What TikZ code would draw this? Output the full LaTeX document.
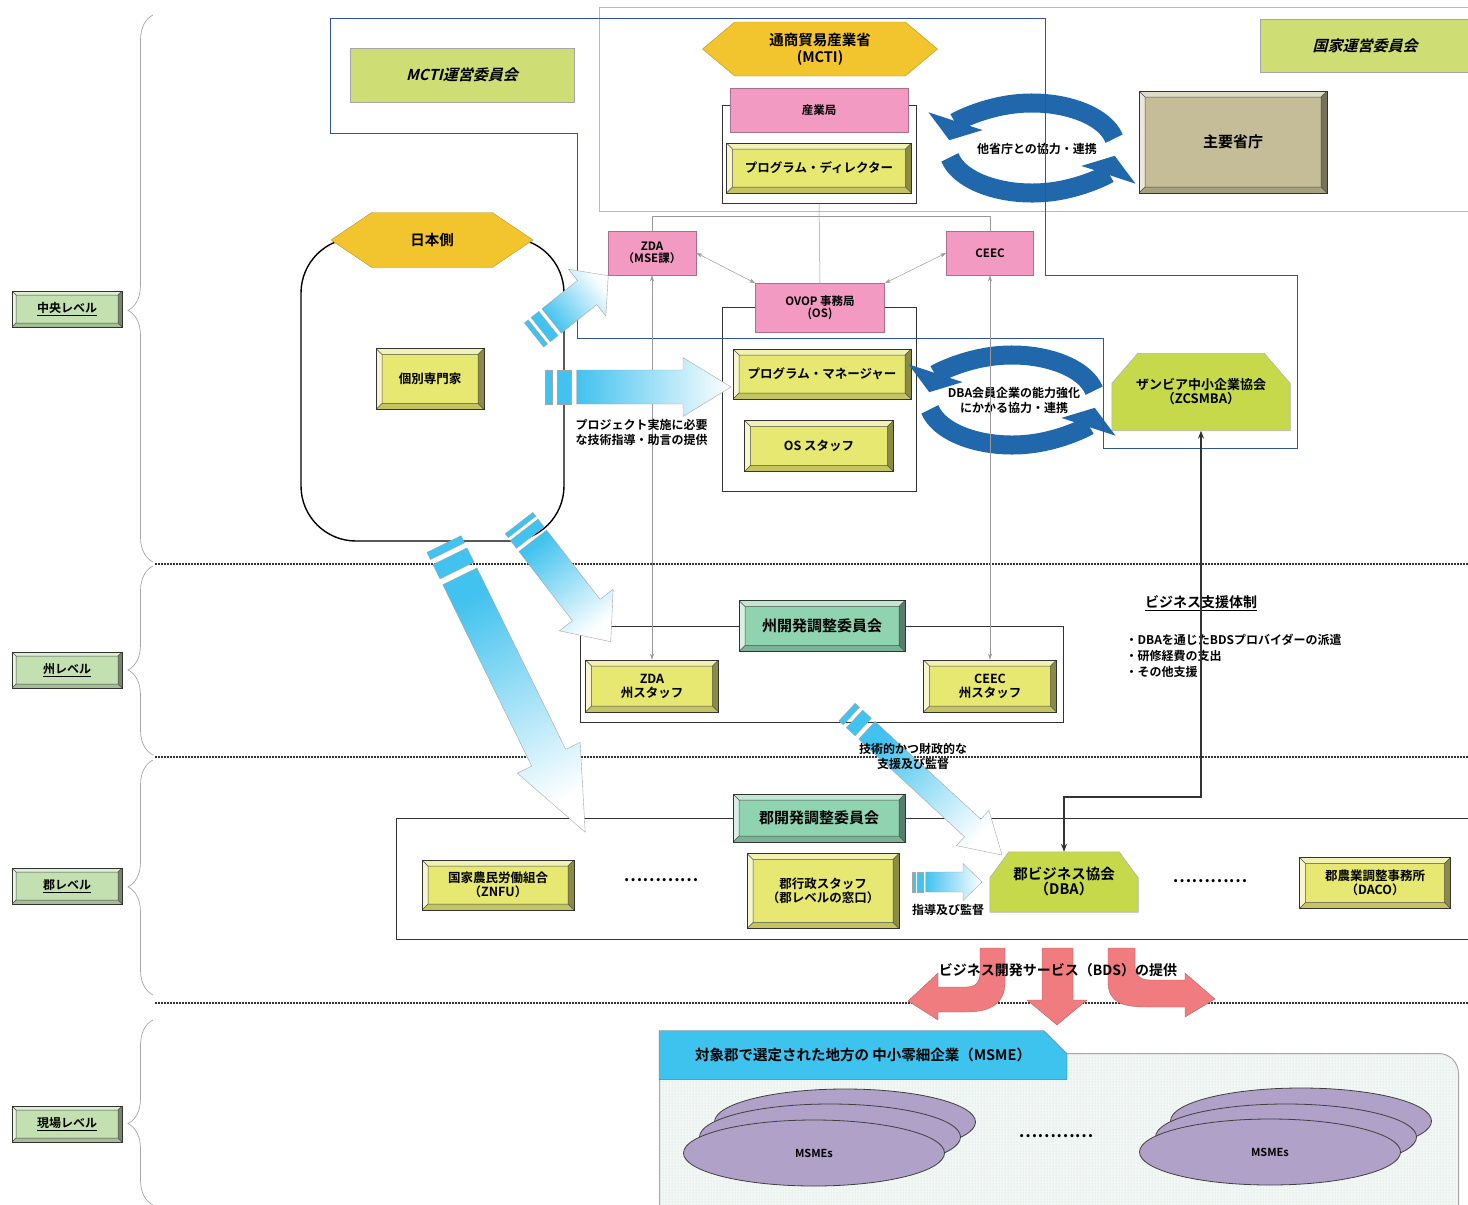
\documentclass[tikz,border=0pt]{standalone}
\usepackage{fontspec}
\setmainfont{Noto Sans CJK JP Bold}
\newfontfamily\slantjp{Noto Sans CJK JP Bold}[FakeSlant=0.25]
\usetikzlibrary{shapes}
\usetikzlibrary{arrows.meta}
\usetikzlibrary{positioning}
\usetikzlibrary{calc}
\usetikzlibrary{decorations.pathreplacing}
\usetikzlibrary{patterns}

\pgfdeclarelayer{background}
\pgfsetlayers{background,main}

\definecolor{boxYellow}{HTML}{E6E872}
\definecolor{pinkFill}{HTML}{F29AC2}
\definecolor{pinkEdge}{HTML}{A8708C}
\definecolor{comLime}{HTML}{CEDE74}
\definecolor{assocGreen}{HTML}{C5D94B}
\definecolor{committeeMint}{HTML}{8FD3B1}
\definecolor{lvlGreen}{HTML}{C3E0B0}
\definecolor{ministryTan}{HTML}{C4BD97}
\definecolor{hexGold}{HTML}{F2C52E}
\definecolor{cyanA}{HTML}{42C2EE}
\definecolor{bdsSalmon}{HTML}{F07C80}
\definecolor{msmePurple}{HTML}{AFA1C7}
\definecolor{hdrCyan}{HTML}{3EC3EE}
\definecolor{mctiNavy}{HTML}{2F5597}
\definecolor{cycleBlue}{HTML}{2067AC}
\definecolor{siteFill}{HTML}{F2F7F4}

\newcommand{\bvw}{6pt}

\newcommand{\gradarrow}[7]{%
	\pgfmathsetmacro{\shadeang}{#2-90}
	\begin{scope}[shift={#1}, rotate=#2]
		\filldraw[stripe] (0,-#4/2) rectangle (#7,#4/2);
		\filldraw[stripe] (1.7*#7,-#4/2) rectangle (3.7*#7,#4/2);
		\shade[draw=gray!70, line width=0.4pt, bottom color=cyanA, top color=white, shading angle=\shadeang]
			(4.5*#7,-#4/2) -- (#3-#6,-#4/2) -- (#3-#6,-#5/2) -- (#3,0) -- (#3-#6,#5/2) -- (#3-#6,#4/2) -- (4.5*#7,#4/2) -- cycle;
	\end{scope}}

\newcommand{\cyclearrows}[1]{%
	\begin{scope}[shift={#1}, y=1pt]
		\draw[cyclearc] (12:84 and 45) arc[start angle=12, end angle=170, x radius=84, y radius=45];
		\draw[cyclearc] (192:84 and 45) arc[start angle=192, end angle=350, x radius=84, y radius=45];
	\end{scope}}

\newcommand{\chamferbox}[3]{%
	\begin{pgfonlayer}{background}
		\filldraw[assocshape] (#1.south west) -- (#1.south east) -- ([yshift=-#3pt]#1.north east)
			-- ([xshift=-#2pt]#1.north east) -- ([xshift=#2pt]#1.north west) -- ([yshift=-#3pt]#1.north west) -- cycle;
	\end{pgfonlayer}}

\tikzset{
	every node/.append style={align=center, font=\fontsize{12.5}{14}\selectfont},
	bevel/.style={draw=black!80, line width=0.6pt, fill=#1, inner sep=3pt,
		path picture={
			\path (path picture bounding box.north west) coordinate (bnw)
				(path picture bounding box.north east) coordinate (bne)
				(path picture bounding box.south west) coordinate (bsw)
				(path picture bounding box.south east) coordinate (bse);
			\path ([shift={(\bvw,-\bvw)}]bnw) coordinate (inw)
				([shift={(-\bvw,-\bvw)}]bne) coordinate (ine)
				([shift={(\bvw,\bvw)}]bsw) coordinate (isw)
				([shift={(-\bvw,\bvw)}]bse) coordinate (ise);
			\fill[#1!55!white] (bnw) -- (bne) -- (ine) -- (inw) -- cycle;
			\fill[#1!35!white] (bnw) -- (inw) -- (isw) -- (bsw) -- cycle;
			\fill[#1!60!black] (bne) -- (bse) -- (ise) -- (ine) -- cycle;
			\fill[#1!85!black] (bsw) -- (bse) -- (ise) -- (isw) -- cycle;
			\draw[black!70, line width=0.5pt] (inw) rectangle (ise)
				(bnw) -- (inw) (bne) -- (ine) (bsw) -- (isw) (bse) -- (ise);
		}},
	thinbevel/.code={\renewcommand{\bvw}{4pt}},
	ybox/.style={bevel=boxYellow},
	lvlbox/.style={thinbevel, bevel=lvlGreen, minimum width=110pt, minimum height=36pt, font=\fontsize{12}{13}\selectfont},
	pinkbox/.style={draw=pinkEdge, fill=pinkFill, line width=0.8pt, font=\fontsize{11.5}{12.5}\selectfont},
	combox/.style={draw=gray!70, fill=comLime, font=\slantjp\fontsize{15}{17}\selectfont},
	grpbox/.style={draw=black!80, line width=0.8pt, fill=white},
	hexnode/.style={signal, signal to=east and west, fill=hexGold, draw=hexGold!75!black, line width=0.4pt, font=\fontsize{14.5}{17}\selectfont},
	assoc/.style={font=\fontsize{13}{14}\selectfont},
	assocshape/.style={fill=assocGreen, draw=gray!60, line width=0.6pt},
	levelsep/.style={line width=1.4pt, dash pattern=on 1.5pt off 1.5pt, black!80},
	levelbrace/.style={decorate, decoration={brace, amplitude=25pt}, draw=gray!70, line width=0.7pt},
	linkline/.style={draw=gray!80, line width=0.5pt},
	linkarrow/.style={draw=gray!80, line width=0.5pt, {Stealth[length=6pt,width=4pt]}-{Stealth[length=6pt,width=4pt]}},
	supportlink/.style={draw=black!80, line width=1.1pt, {Stealth[length=8pt,width=6pt]}-{Stealth[length=8pt,width=6pt]}},
	mctiline/.style={draw=mctiNavy, line width=0.9pt},
	cyclearc/.style={draw=cycleBlue, line width=19pt, -{Triangle[width=56pt, length=20pt]}},
	stripe/.style={fill=cyanA, draw=gray!70, line width=0.3pt},
	bdsarrow/.style={fill=bdsSalmon, draw=bdsSalmon!70!black, line width=0.3pt},
	txtsmall/.style={font=\fontsize{12}{15}\selectfont},
	dotsep/.style={font=\fontsize{17}{17}\selectfont},
	msme/.style={ellipse, draw=black!75, line width=0.8pt, fill=msmePurple, minimum width=261pt, minimum height=66pt, font=\fontsize{11}{12}\selectfont},
	hdrtab/.style={chamfered rectangle, chamfered rectangle corners=north east, chamfered rectangle xsep=9pt, chamfered rectangle ysep=14pt, fill=hdrCyan, draw=black!60, font=\fontsize{14.5}{16}\selectfont},
	sitebox/.style={draw=gray!70, line width=1pt, rounded corners=20pt, fill=siteFill, postaction={pattern=dots, pattern color=teal!25}}
}

\begin{document}
\begin{tikzpicture}[x=1pt, y=-1pt]
	\useasboundingbox (0,0) rectangle (1468,1205);

	% levels
	\draw[levelsep] (155,564) -- (1468,564);
	\draw[levelsep] (155,757) -- (1468,757);
	\draw[levelsep] (155,1003) -- (1468,1003);
	\node[lvlbox] (central) at (67,309) {\underline{中央レベル}};
	\node[lvlbox] (province) at (67,670) {\underline{州レベル}};
	\node[lvlbox] (district) at (67,886) {\underline{郡レベル}};
	\node[lvlbox] (field) at (67,1124) {\underline{現場レベル}};
	\draw[levelbrace, decoration={aspect=0.46}] (153,562) -- (153,15);
	\draw[levelbrace, decoration={aspect=0.45}] (153,755) -- (153,566);
	\draw[levelbrace, decoration={aspect=0.46}] (153,995) -- (153,760);
	\draw[levelbrace, decoration={aspect=0.44}] (153,1205) -- (153,1020);

	% central level
	\draw[gray!55] (599,7) rectangle (1480,211);
	\node[combox, minimum width=224pt, minimum height=54pt] (mcticom) at (462,75) {MCTI運営委員会};
	\node[combox, minimum width=210pt, minimum height=53pt] (natcom) at (1365,46) {国家運営委員会};
	\node[hexnode, minimum width=235pt, minimum height=54pt, signal pointer angle=80] (mcti) at (820,49) {通商貿易産業省\\(MCTI)};
	\node[grpbox, minimum width=194pt, minimum height=98pt] (bureau) at (819,154) {};
	\node[pinkbox, minimum width=178pt, minimum height=44pt] (industry) at (819,110) {産業局};
	\node[ybox, minimum width=185pt, minimum height=50pt] (director) at (819,168) {プログラム・ディレクター};
	\node[bevel=ministryTan, minimum width=188pt, minimum height=102pt, font=\fontsize{15}{17}\selectfont] (ministries) at (1233,142) {主要省庁};
	\cyclearrows{(1032,148)}
	\node[txtsmall] (coopmin) at (1037,149) {他省庁との協力・連携};

	\node[pinkbox, minimum width=88pt, minimum height=44pt] (zda) at (652,253) {ZDA\\（MSE課）};
	\node[pinkbox, minimum width=87pt, minimum height=44pt] (ceec) at (990,253) {CEEC};
	\node[grpbox, minimum width=194pt, minimum height=184pt] (osgroup) at (819,399) {};
	\node[pinkbox, minimum width=129pt, minimum height=49pt] (ovop) at (820,308) {OVOP 事務局\\(OS)};
	\node[ybox, minimum width=178pt, minimum height=50pt] (manager) at (822,374) {プログラム・マネージャー};
	\node[ybox, minimum width=149pt, minimum height=51pt] (osstaff) at (819,446) {OS スタッフ};
	\node[assoc, minimum width=178pt, minimum height=77pt] (zcsmba) at (1201,392) {ザンビア中小企業協会\\（ZCSMBA）};
	\chamferbox{zcsmba}{26}{30}
	\cyclearrows{(1012,400)}
	\node[txtsmall] (coopdba) at (1014,400) {DBA会員企業の能力強化\\にかかる協力・連携};

	\draw[linkline] (zda.north) -- ++(0,-14) -| (ceec.north);
	\draw[linkline] (bureau.south) -- (ovop.north);
	\draw[linkarrow] (zda.east) -- (ovop.north west);
	\draw[linkarrow] (ceec.west) -- (ovop.north east);

	\node[draw, rounded corners=55pt, line width=1.4pt, minimum width=263pt, minimum height=303pt] (japan) at (432.5,389.5) {};
	\node[hexnode, minimum width=202pt, minimum height=55pt, signal pointer angle=68] (japanhead) at (432,240) {日本側};
	\node[ybox, minimum width=108pt, minimum height=61pt] (experts) at (430,379) {個別専門家};

	\draw[mctiline] (330,18) -- (1045,18) -- (1045,275) -- (1297,275) -- (1297,448) -- (1103,448)
		-- (1103,338) -- (577,338) -- (577,133) -- (330,133) -- cycle;

	% province level
	\node[grpbox, fill=none, minimum width=483pt, minimum height=96pt] (provgroup) at (821.5,674) {};
	\node[bevel=committeeMint, minimum width=166pt, minimum height=51pt, font=\fontsize{15}{17}\selectfont] (provcom) at (822,626) {州開発調整委員会};
	\node[ybox, minimum width=133pt, minimum height=52pt] (zdastaff) at (652,686) {ZDA\\州スタッフ};
	\node[ybox, minimum width=133pt, minimum height=52pt] (ceecstaff) at (990,686) {CEEC\\州スタッフ};
	\draw[linkarrow] (zda.south) -- (zdastaff.north);
	\draw[linkarrow] (ceec.south) -- (ceecstaff.north);

	\node[font=\fontsize{14}{16}\selectfont] (support) at (1201,603) {\underline{ビジネス支援体制}};
	\node[anchor=west, align=left, font=\fontsize{12}{16}\selectfont] (supportlist) at (1122,656) {・DBAを通じたBDSプロバイダーの派遣\\・研修経費の支出\\・その他支援};

	% district level
	\node[grpbox, fill=none, minimum width=1084pt, minimum height=121pt] (distgroup) at (938,878.5) {};
	\node[bevel=committeeMint, minimum width=172pt, minimum height=48pt, font=\fontsize{15}{17}\selectfont] (distcom) at (819,818) {郡開発調整委員会};
	\node[ybox, minimum width=152pt, minimum height=50pt] (znfu) at (498,885) {国家農民労働組合\\（ZNFU）};
	\node[dotsep] (dotsA) at (661,880) {…………};
	\node[ybox, minimum width=152pt, minimum height=75pt] (diststaff) at (823,891) {郡行政スタッフ\\（郡レベルの窓口）};
	\node[assoc, minimum width=148pt, minimum height=60pt, font=\fontsize{14.5}{15}\selectfont] (dba) at (1064,882) {郡ビジネス協会\\（DBA）};
	\chamferbox{dba}{19}{26}
	\node[dotsep] (dotsB) at (1210,881) {…………};
	\node[ybox, minimum width=151pt, minimum height=51pt] (daco) at (1375,883) {郡農業調整事務所\\（DACO）};

	\coordinate (bend) at (1201,797);
	\draw[supportlink] (zcsmba.south) -- (bend) -| (dba.north);

	% field level
	\node[sitebox, anchor=north west, minimum width=799pt, minimum height=180pt] (sitearea) at (659,1053) {};
	\node[hdrtab, minimum width=408pt, minimum height=46pt] (msmehdr) at (863,1055) {対象郡で選定された地方の 中小零細企業（MSME）};
	\node[msme] (msmeA3) at (845,1122) {};
	\node[msme] (msmeA2) at (830,1137) {};
	\node[msme] (msmeA1) at (814,1153) {MSMEs};
	\node[dotsep] (dotsC) at (1056,1136) {…………};
	\node[msme] (msmeB3) at (1301,1121) {};
	\node[msme] (msmeB2) at (1286,1137) {};
	\node[msme] (msmeB1) at (1270,1152) {MSMEs};

	\fill[bdsarrow] (980,948) -- (1005,948) -- (1005,982) .. controls (1005,1004) and (990,1012) .. (966,1012)
		-- (938,1012) -- (938,1020) -- (908,1001) -- (938,973) -- (938,987) -- (966,987)
		.. controls (976,987) and (980,982) .. (980,972) -- cycle;
	\filldraw[bdsarrow] (1042,948) -- (1073,948) -- (1073,1000) -- (1087,1000) -- (1057,1025) -- (1027,1000) -- (1042,1000) -- cycle;
	\filldraw[bdsarrow] (1135,948) -- (1108,948) -- (1108,982) .. controls (1108,1002) and (1122,1007) .. (1146,1007)
		-- (1185,1007) -- (1185,1017) -- (1215,999) -- (1185,973) -- (1185,980) -- (1150,980)
		.. controls (1140,980) and (1135,975) .. (1135,966) -- cycle;
	\node[font=\fontsize{14}{16}\selectfont] (bdslabel) at (1058,970) {ビジネス開発サービス（BDS）の提供};

	% support arrows
	\gradarrow{(534,335)}{38.6}{95}{31}{60}{27}{5}
	\gradarrow{(545,387)}{0}{186}{34}{59}{48}{7}
	\gradarrow{(519,523)}{-52.3}{150}{35}{68}{40}{5}
	\gradarrow{(444,544)}{-63.9}{321}{38}{70}{83}{8}
	\gradarrow{(847,712)}{-42.7}{211}{24}{48}{40}{6}
	\gradarrow{(912,882)}{0}{70}{20}{37}{19}{3}

	\node[txtsmall, align=left, anchor=north west] (advice) at (572,416) {プロジェクト実施に必要\\な技術指導・助言の提供};
	\node[txtsmall] (finsupport) at (913,756) {技術的かつ財政的な\\支援及び監督};
	\node[txtsmall] (guidance) at (948,910) {指導及び監督};
\end{tikzpicture}
\end{document}
